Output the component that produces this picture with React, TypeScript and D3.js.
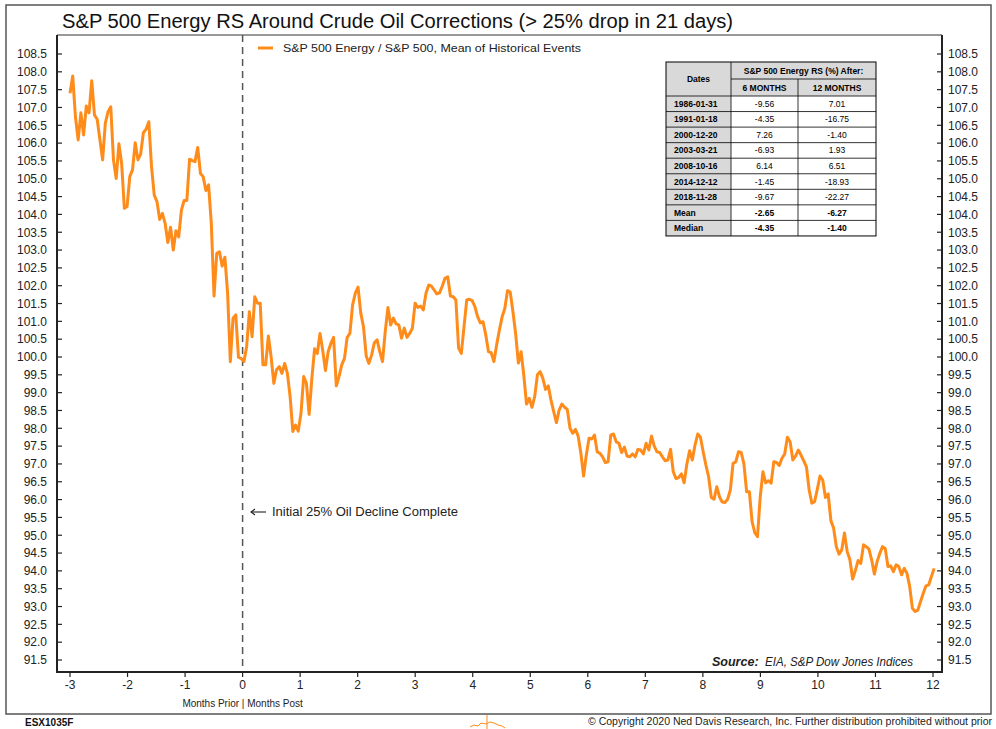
import React from "react";
import * as d3 from "d3";

// mean relative strength path, one reading per trading day, -3 to +12 months
const relStrength = [
  107.4, 107.88, 106.74, 106.09, 106.85, 106.23, 107.04, 106.85, 107.75, 106.79, 106.67, 106.1, 105.53, 106.56, 106.88, 107.02,
  105.53, 105.01, 105.98, 105.43, 104.17, 104.22, 105.06, 105.25, 106.01, 105.53, 105.69, 106.29, 106.39, 106.6, 105.34, 104.54,
  104.36, 103.86, 104.03, 103.75, 103.21, 103.64, 103.0, 103.54, 103.37, 104.12, 104.39, 104.39, 105.55, 105.51, 105.48, 105.88,
  105.15, 105.06, 104.67, 104.83, 103.75, 101.71, 102.91, 102.95, 102.55, 102.8, 101.79, 99.87, 101.09, 101.18, 99.99, 99.96,
  99.87, 100.29, 101.27, 100.57, 101.69, 101.51, 101.51, 99.78, 99.78, 100.59, 100.01, 99.26,
  99.64, 99.73, 99.54, 99.82, 99.54, 98.89, 97.91, 98.09, 97.92, 98.42, 99.45, 99.26, 98.39, 99.4, 100.23, 100.1, 100.66, 100.19,
  99.62, 100.15, 100.38, 100.55, 99.19, 99.45, 99.78, 99.96, 100.55, 100.66, 101.46, 101.79, 101.96, 101.23, 100.85, 100.03,
  99.82, 100.06, 100.4, 100.48, 100.15, 99.87, 100.71, 101.39, 100.9, 101.09, 100.93, 100.9, 100.53, 100.81, 100.55, 100.66,
  100.81, 101.51, 101.39, 101.43, 101.32, 101.79, 102.02, 101.99, 101.88, 101.77, 101.8, 101.99, 102.21, 102.25, 101.71, 101.69,
  101.6, 100.25, 100.1, 100.85, 101.6, 101.62, 101.58, 101.41, 101.13, 100.96, 100.99, 100.62, 100.15, 100.12, 99.87, 100.34,
  100.75, 101.12, 101.36, 101.86, 101.82, 101.27, 100.65, 99.83, 100.15, 99.48, 98.68, 98.84, 98.59, 98.89, 99.5, 99.59, 99.4,
  99.09, 99.19, 98.79, 98.47, 98.16, 98.51, 98.68, 98.59, 98.53, 98.0, 97.86, 97.97, 97.78, 97.3, 96.66, 97.25, 97.72, 97.7,
  97.81, 97.34, 97.3, 97.2, 97.04, 97.06, 97.81, 97.84, 97.62, 97.58, 97.32, 97.47, 97.22, 97.2, 97.28, 97.2, 97.41, 97.39,
  97.28, 97.58, 97.39, 97.78, 97.5, 97.34, 97.32, 97.2, 97.09, 97.11, 97.41, 96.78, 96.59, 96.62, 96.72, 96.47, 97.0, 97.37,
  97.11, 97.53, 97.84, 97.75, 97.34, 96.97, 96.64, 96.06, 96.01, 96.36, 96.08, 95.93, 95.92, 96.01, 96.27, 97.02, 97.06, 97.34,
  97.32,
  97.0, 96.22, 96.22, 95.38, 95.07, 94.96, 96.08, 96.78, 96.47, 96.53, 96.46, 97.06, 97.04, 96.96, 97.16, 97.28, 97.75, 97.62,
  97.11, 97.22, 97.39, 97.25, 97.09, 96.92, 96.27, 95.9, 95.94, 96.29, 96.66, 96.55, 96.06, 96.16, 95.41, 95.2, 94.68, 94.47,
  94.59, 95.06, 94.54, 94.31, 93.77, 94.01, 94.29, 94.21, 94.73, 94.68, 94.61, 94.31, 93.91, 94.26, 94.49, 94.68, 94.63, 94.12,
  94.14, 93.98, 94.17, 94.12, 93.89, 94.07, 93.93, 93.56, 92.95, 92.86, 92.9, 93.14, 93.37, 93.58, 93.61, 93.84, 94.07,
];
const startMonth = -3;
const endMonth = 12.02;
const monthTicks = d3.range(-3, 13);
const rsTicks = d3.range(91.5, 108.51, 0.5);

const eventDates = ["1986-01-31", "1991-01-18", "2000-12-20", "2003-03-21", "2008-10-16", "2014-12-12", "2018-11-28"];
const sixMonths = ["-9.56", "-4.35", "7.26", "-6.93", "6.14", "-1.45", "-9.67"];
const twelveMonths = ["7.01", "-16.75", "-1.40", "1.93", "6.51", "-18.93", "-22.27"];
const summaryLabels = ["Mean", "Median"];
const summarySix = ["-2.65", "-4.35"];
const summaryTwelve = ["-6.27", "-1.40"];

const FONT = "'Liberation Sans', Arial, sans-serif";
const ORANGE = "#ff8c1a";

function Table() {
  const left = 666, c1 = 731, c2 = 798, right = 876;
  const top = 62, h1 = 79, h2 = 96, rowH = 15.55;
  const rows = eventDates.map((d, i) => ({ label: d, a: sixMonths[i], b: twelveMonths[i], bold: false }))
    .concat(summaryLabels.map((d, i) => ({ label: d, a: summarySix[i], b: summaryTwelve[i], bold: true })));
  const bottom = h2 + rows.length * rowH;
  const gray = "#d9d9d9";
  return (
    <g fontFamily={FONT} fontSize={8.5}>
      <rect x={left} y={top} width={c1 - left} height={bottom - top} fill={gray} />
      <rect x={c1} y={top} width={right - c1} height={h2 - top} fill={gray} />
      <rect x={c1} y={h2} width={right - c1} height={bottom - h2} fill="#fff" />
      <text x={(left + c1) / 2} y={(top + h2) / 2 + 3} textAnchor="middle" fontWeight="bold">Dates</text>
      <text x={(c1 + right) / 2} y={(top + h1) / 2 + 3} textAnchor="middle" fontWeight="bold">S&amp;P 500 Energy RS (%) After:</text>
      <text x={(c1 + c2) / 2} y={(h1 + h2) / 2 + 3} textAnchor="middle" fontWeight="bold">6 MONTHS</text>
      <text x={(c2 + right) / 2} y={(h1 + h2) / 2 + 3} textAnchor="middle" fontWeight="bold">12 MONTHS</text>
      {rows.map((r, i) => {
        const y = h2 + i * rowH;
        return (
          <g key={r.label}>
            <line x1={left} x2={right} y1={y} y2={y} stroke="#000" strokeWidth={0.8} />
            <text x={left + 8} y={y + rowH / 2 + 3} fontWeight="bold">{r.label}</text>
            <text x={(c1 + c2) / 2} y={y + rowH / 2 + 3} textAnchor="middle" fontWeight={r.bold ? "bold" : "normal"}>{r.a}</text>
            <text x={(c2 + right) / 2} y={y + rowH / 2 + 3} textAnchor="middle" fontWeight={r.bold ? "bold" : "normal"}>{r.b}</text>
          </g>
        );
      })}
      <line x1={c1} x2={right} y1={h1} y2={h1} stroke="#000" strokeWidth={0.8} />
      <line x1={c1} x2={c1} y1={top} y2={bottom} stroke="#000" strokeWidth={0.8} />
      <line x1={c2} x2={c2} y1={h1} y2={bottom} stroke="#000" strokeWidth={0.8} />
      <rect x={left} y={top} width={right - left} height={bottom - top} fill="none" stroke="#000" strokeWidth={1} />
    </g>
  );
}

export default function App() {
  const W = 996, H = 729;
  const plotL = 57, plotR = 942, plotT = 35, plotB = 672;
  const x = d3.scaleLinear().domain([-3, 12]).range([70, 933]);
  const y = d3.scaleLinear().domain([91.5, 108.5]).range([660, 54]);
  const step = (endMonth - startMonth) / (relStrength.length - 1);
  const line = d3.line<number>()
    .x((_, i) => x(startMonth + i * step))
    .y((d) => y(d));
  const fmt = d3.format(".1f");

  return (
    <svg width={W} height={H} style={{ position: "absolute", left: 0, top: 0, background: "#fff" }} fontFamily={FONT}>
      <rect x={0} y={0} width={W} height={H} fill="#fff" />
      <rect x={6} y={5} width={985} height={709} fill="none" stroke="#555" strokeWidth={1.5} />
      <text x={62} y={28} fontSize={20} textLength={671} lengthAdjust="spacingAndGlyphs" fill="#111">
        S&amp;P 500 Energy RS Around Crude Oil Corrections (&gt; 25% drop in 21 days)
      </text>

      {/* plot frame */}
      <line x1={plotL} x2={plotR} y1={plotT} y2={plotT} stroke="#333" strokeWidth={1} />
      <line x1={x(0)} x2={x(0)} y1={plotT} y2={plotB} stroke="#555" strokeWidth={1.5} strokeDasharray="7,5" />

      {/* y axes */}
      {rsTicks.map((t) => (
        <g key={t}>
          <line x1={plotL} x2={plotL + 5} y1={y(t)} y2={y(t)} stroke="#222" strokeWidth={1.2} />
          <line x1={plotR - 5} x2={plotR} y1={y(t)} y2={y(t)} stroke="#222" strokeWidth={1.2} />
          <text x={47} y={y(t) + 4.3} fontSize={12} textAnchor="end" fill="#222">{fmt(t)}</text>
          <text x={948} y={y(t) + 4.3} fontSize={12} fill="#222">{fmt(t)}</text>
        </g>
      ))}
      {/* x axis */}
      {monthTicks.map((t) => (
        <g key={t}>
          <line x1={x(t)} x2={x(t)} y1={plotB} y2={plotB + 5} stroke="#222" strokeWidth={1.2} />
          <text x={x(t)} y={689} fontSize={12} textAnchor="middle" fill="#222">{t}</text>
        </g>
      ))}
      <line x1={plotL} x2={plotL} y1={plotT} y2={plotB} stroke="#222" strokeWidth={2} />
      <line x1={plotR} x2={plotR} y1={plotT} y2={plotB} stroke="#222" strokeWidth={2} />
      <line x1={plotL - 1} x2={plotR + 1} y1={plotB} y2={plotB} stroke="#222" strokeWidth={2} />

      <path d={line(relStrength) ?? ""} fill="none" stroke={ORANGE} strokeWidth={3} strokeLinejoin="round" />

      {/* legend */}
      <line x1={258} x2={273} y1={48} y2={48} stroke={ORANGE} strokeWidth={3} />
      <text x={283} y={52} fontSize={11.5} textLength={298} lengthAdjust="spacingAndGlyphs" fill="#222">
        S&amp;P 500 Energy / S&amp;P 500, Mean of Historical Events
      </text>

      <Table />

      {/* annotation */}
      <g stroke="#222" strokeWidth={1.1} fill="none">
        <line x1={251} x2={266} y1={512} y2={512} />
        <path d="M255,509 L251,512 L255,515" />
      </g>
      <text x={272} y={516} fontSize={12.5} textLength={186} lengthAdjust="spacingAndGlyphs" fill="#222">
        Initial 25% Oil Decline Complete
      </text>

      <text x={712} y={666} fontSize={12.5} fontStyle="italic" fill="#222">
        <tspan fontWeight="bold">Source:</tspan>
      </text>
      <text x={765} y={666} fontSize={12.5} fontStyle="italic" fill="#222" textLength={148} lengthAdjust="spacingAndGlyphs">
        EIA, S&amp;P Dow Jones Indices
      </text>

      <text x={x(0)} y={707} fontSize={10} textAnchor="middle" fill="#222">Months Prior | Months Post</text>
      <text x={25} y={726} fontSize={10} fontWeight="bold" fill="#111">ESX1035F</text>
      <text x={992} y={725} fontSize={10} textAnchor="end" textLength={404} lengthAdjust="spacingAndGlyphs" fill="#222">
        © Copyright 2020 Ned Davis Research, Inc. Further distribution prohibited without prior
      </text>
      <g stroke={ORANGE} strokeWidth={1} fill="none">
        <line x1={487} x2={487} y1={715} y2={729} />
        <path d="M470,727 L474,725 L478,726 L481,723 L486,724 L490,722 L494,723 L498,725 L502,726 L505,728" />
      </g>
    </svg>
  );
}
